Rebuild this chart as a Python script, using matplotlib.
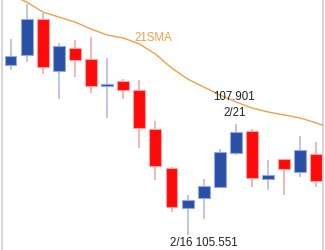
"""
Candlestick snippet with 21SMA overlay, labelled swing high / low.
"""
import numpy as np
import matplotlib
matplotlib.use("Agg")
import matplotlib.pyplot as plt

plt.rcParams["font.family"] = ["Liberation Sans", "DejaVu Sans"]

# OHLC per bar (oldest -> newest)
opens  = [109.150, 109.362, 110.124, 109.023, 109.510, 109.277, 108.706, 108.811, 108.621, 107.795,
          106.969, 106.123, 106.334, 106.567, 107.287, 107.753, 106.737, 107.160, 106.885, 107.266]
highs  = [109.701, 110.441, 110.251, 109.616, 109.679, 109.743, 109.298, 108.854, 108.832, 107.965,
          106.991, 106.398, 106.737, 107.372, 107.901, 107.795, 107.139, 107.160, 107.647, 107.520]
lows   = [109.044, 109.214, 108.960, 108.430, 108.896, 108.557, 108.028, 108.430, 107.393, 106.715,
          106.038, 105.551, 105.890, 106.560, 107.245, 106.567, 106.504, 106.398, 106.779, 106.567]
closes = [109.347, 110.124, 109.108, 109.552, 109.256, 108.706, 108.748, 108.621, 107.816, 107.012,
          106.144, 106.292, 106.588, 107.308, 107.732, 106.758, 106.821, 106.948, 107.351, 106.694]
# 21-period simple moving average (one extra point past the last bar)
sma21  = [110.632, 110.484, 110.272, 110.166, 110.060, 109.912, 109.785, 109.722, 109.595, 109.383,
          109.087, 108.854, 108.684, 108.516, 108.367, 108.240, 108.155, 108.092, 108.028, 107.922,
          107.795]

BLUE, BLUE_EDGE, BLUE_WICK = "#2a50a6", "#8fa8e8", "#b4bcd8"
RED, RED_EDGE, RED_WICK = "#ff0a0a", "#ffa0a0", "#f2a8a8"
ORANGE = "#f0a048"

o, h, l, c = map(np.array, (opens, highs, lows, closes))
x = np.arange(len(o))
up = c >= o

fig = plt.figure(figsize=(3.25, 2.5), dpi=100)
ax = fig.add_axes([2 / 325, 0, 321 / 325, 1])

ax.vlines(x[up], l[up], h[up], color=BLUE_WICK, lw=1.2, zorder=1)
ax.vlines(x[~up], l[~up], h[~up], color=RED_WICK, lw=1.2, zorder=1)
ax.bar(x[up], (c - o)[up], bottom=o[up], width=0.74, color=BLUE,
       edgecolor=BLUE_EDGE, lw=0.8, zorder=2)
ax.bar(x[~up], (o - c)[~up], bottom=c[~up], width=0.74, color=RED,
       edgecolor=RED_EDGE, lw=0.8, zorder=2)

ax.plot(np.arange(len(sma21)), sma21, color=ORANGE, lw=1.0, zorder=3)

ax.text(8.9, 109.72, "21SMA", color=ORANGE, fontsize=8.3, ha="center", va="center")
ax.text(13.9, 108.47, "107.901", color="#222222", fontsize=8.3, ha="center", va="center")
ax.text(13.9, 108.13, "2/21", color="#222222", fontsize=8.3, ha="center", va="center")
ax.text(12.0, 105.38, "2/16 105.551", color="#222222", fontsize=8.3, ha="center", va="center")

ax.set_xlim(-0.53, 19.41)
ax.set_ylim(105.233, 110.526)
ax.set_xticks([]); ax.set_yticks([])
for side in ("top", "bottom"):
    ax.spines[side].set_visible(False)
for side in ("left", "right"):
    ax.spines[side].set_color("#d0d0d0")
    ax.spines[side].set_linewidth(1.2)

fig.savefig("out.png", dpi=100)
